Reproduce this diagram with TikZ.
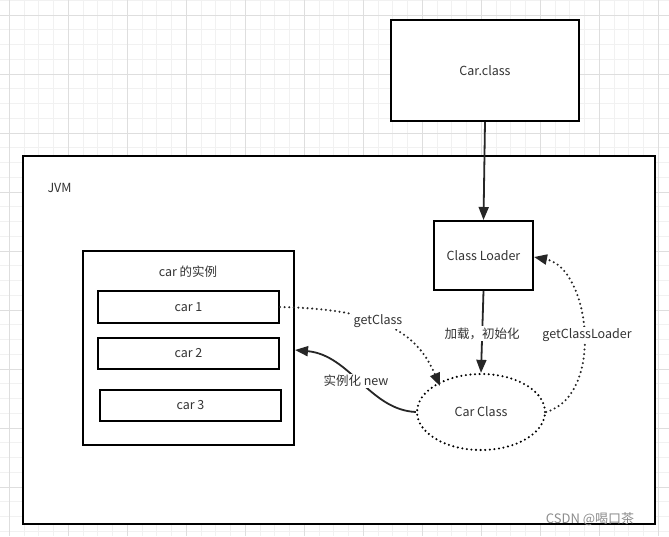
\documentclass[tikz,border=0pt]{standalone}
\usepackage{fontspec}
\setmainfont{Noto Sans CJK SC}
\usetikzlibrary{arrows.meta,shapes.geometric}
\definecolor{gridminor}{HTML}{F1F1F1}
\definecolor{gridmajor}{HTML}{DEDEDE}
\definecolor{txt}{HTML}{333333}
\definecolor{tipc}{HTML}{262626}
\begin{document}
\begin{tikzpicture}[x=1pt,y=-1pt,
  box/.style={draw=black,line width=2pt,fill=white,inner sep=0pt,text=txt,font=\fontsize{12.5}{15}\selectfont},
  lbl/.style={fill=white,inner sep=1.5pt,text=txt,font=\fontsize{12.5}{15}\selectfont},
  tip/.style={-{Triangle[length=13pt,width=10pt]},color=tipc},
  solidarrow/.style={tip,line width=1.8pt},
  dotarrow/.style={tip,line width=2.3pt,dash pattern=on 0pt off 4.6pt,line cap=round},
  gminor/.style={draw=gridminor,line width=0.8pt},
  gmajor/.style={draw=gridmajor,line width=1pt}]
\useasboundingbox (0,0) rectangle (669,536);
\fill[white] (0,0) rectangle (669,536);
% grid
\foreach \i in {0,...,46} {
  \draw[gminor] ({9.3+14.75*(\i-1)},0) -- ++(0,536);
  \draw[gminor] (0,{15+14.75*(\i-2)}) -- ++(669,0);
}
\foreach \i in {0,...,11} {
  \draw[gmajor] ({9.3+59*\i},0) -- ++(0,536);
  \draw[gmajor] (0,{15+59*\i}) -- ++(669,0);
}
% boxes
\node[box,minimum width=632pt,minimum height=368pt] (jvm) at (339,340) {};
\node[anchor=west,text=txt,font=\fontsize{12.5}{15}\selectfont] (jvmlabel) at (44,188) {JVM};
\node[box,minimum width=188pt,minimum height=101pt] (carclass) at (485,70.5) {Car.class};
\node[box,minimum width=99pt,minimum height=69pt] (loader) at (483.5,255.5) {Class Loader};
\node[box,minimum width=211pt,minimum height=194pt] (inst) at (188.5,348) {};
\node[text=txt,font=\fontsize{12.5}{15}\selectfont] (instlabel) at (188,272) {car 的实例};
\node[box,minimum width=181pt,minimum height=32pt] (car1) at (188.5,307) {car 1};
\node[box,minimum width=181pt,minimum height=31pt] (car2) at (188.5,353.5) {car 2};
\node[box,minimum width=181pt,minimum height=31pt] (car3) at (190.5,405.5) {car 3};
\node[ellipse,draw=black,line width=2.3pt,dash pattern=on 0pt off 4.6pt,line cap=round,fill=white,
  minimum width=128pt,minimum height=76pt,inner sep=0pt,text=txt,font=\fontsize{12.5}{15}\selectfont] (carc) at (481,412) {Car Class};
% connectors
\draw[solidarrow] (carclass.south) -- (loader.north);
\draw[solidarrow] (loader.south) -- (carc.north)
  node[lbl,pos=0.52] (l1) {加载，初始化};
\coordinate (gcend) at (440,386);
\draw[dotarrow] (car1.east) .. controls (385,309) and (418,335) .. (gcend);
\node[lbl] (l2) at (378,321) {getClass};
\coordinate (glend) at (534,257);
\draw[dotarrow] (carc.east) .. controls (605,395) and (590,268) .. (glend);
\node[lbl] (l3) at (587,335) {getClassLoader};
\coordinate (newend) at (295,350);
\draw[solidarrow] (carc.west) .. controls (370,410) and (350,355) .. (newend);
\node[lbl] (l4) at (356,381) {实例化 new};
% watermark
\node[text=black!45,font=\fontsize{13}{15}\selectfont] (wm) at (590,519) {CSDN @喝口茶};
\end{tikzpicture}
\end{document}
